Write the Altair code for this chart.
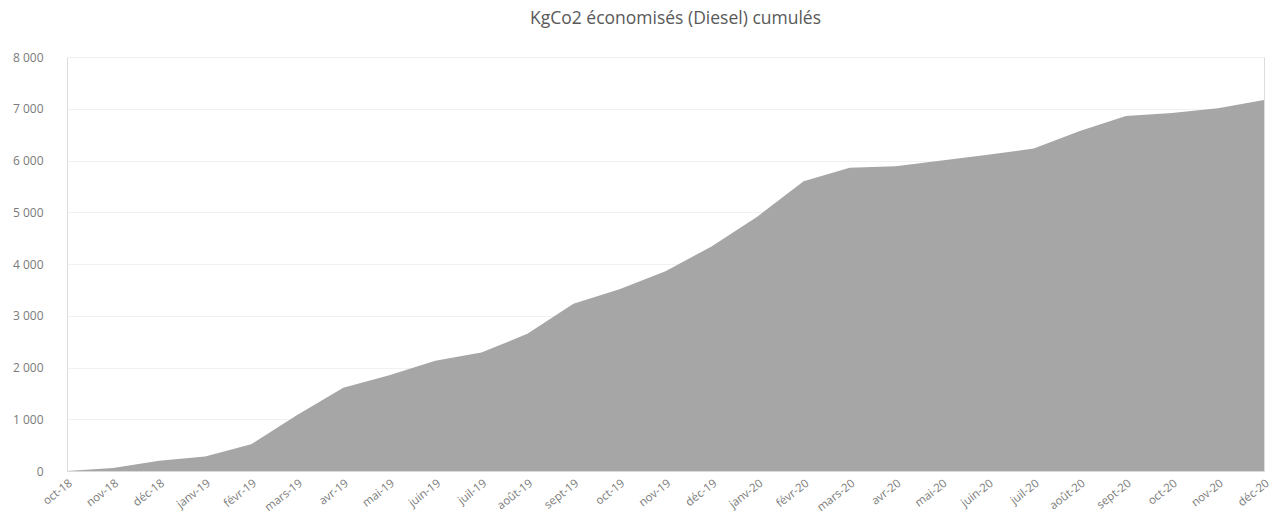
import altair as alt
import pandas as pd

# Monthly cumulative CO2 savings (kg), diesel baseline
months = [
    "oct-18", "nov-18", "déc-18", "janv-19", "févr-19", "mars-19", "avr-19",
    "mai-19", "juin-19", "juil-19", "août-19", "sept-19", "oct-19", "nov-19",
    "déc-19", "janv-20", "févr-20", "mars-20", "avr-20", "mai-20", "juin-20",
    "juil-20", "août-20", "sept-20", "oct-20", "nov-20", "déc-20",
]
kg_co2 = [
    0, 60, 200, 280, 515, 1080, 1610,
    1850, 2130, 2290, 2650, 3230, 3510, 3860,
    4340, 4920, 5600, 5860, 5890, 6000, 6110,
    6230, 6570, 6860, 6920, 7010, 7170,
]
y_ticks = [0, 1000, 2000, 3000, 4000, 5000, 6000, 7000, 8000]

df = pd.DataFrame({"mois": months, "kg": kg_co2})

GREY_TEXT = "#7a7a7a"
FONT = "Open Sans"

chart = (
    alt.Chart(df)
    .mark_area(color="#a6a6a6", opacity=1, interpolate="linear")
    .encode(
        x=alt.X(
            "mois:O",
            sort=months,
            scale=alt.Scale(padding=0),
            axis=alt.Axis(
                title=None,
                labelAngle=-38,
                labelAlign="right",
                labelBaseline="top",
                labelFont=FONT,
                labelFontSize=11.5,
                labelColor=GREY_TEXT,
                labelPadding=6,
                ticks=False,
                domain=True,
                domainColor="#d9d9d9",
                grid=False,
                labelOverlap=False,
                labelBound=False,
            ),
        ),
        y=alt.Y(
            "kg:Q",
            scale=alt.Scale(domain=[0, 8000], nice=False),
            axis=alt.Axis(
                title=None,
                values=y_ticks,
                labelExpr="replace(format(datum.value, ','), ',', ' ')",
                labelFont=FONT,
                labelFontSize=12,
                labelColor=GREY_TEXT,
                labelPadding=24,
                ticks=False,
                domain=False,
                grid=True,
                gridColor="#f1f1f1",
                gridWidth=1,
            ),
        ),
    )
    .properties(
        width=1197,
        height=414,
        title=alt.TitleParams(
            "KgCo2 économisés (Diesel) cumulés",
            font=FONT,
            fontSize=17.5,
            fontWeight="normal",
            color="#595959",
            anchor="middle",
            offset=24,
            dx=10,
        ),
        autosize=alt.AutoSizeParams(type="none"),
        padding={"left": 67, "top": 57, "right": 8, "bottom": 42},
    )
    .configure_view(strokeWidth=0)
    .configure(background="white")
)

chart.save("out.html", embed_options={"renderer": "svg", "actions": False})
